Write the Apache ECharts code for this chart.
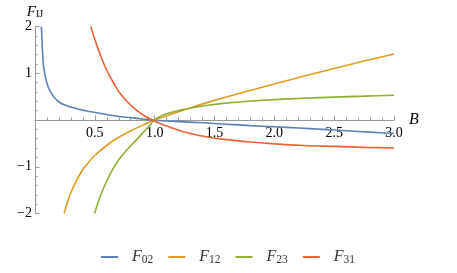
<!DOCTYPE html>
<html><head><meta charset="utf-8">
<script src="https://cdn.jsdelivr.net/npm/echarts@6/dist/echarts.min.js"></script>
<style>html,body{margin:0;padding:0;background:#fff}#c{width:457px;height:273px}</style>
</head><body><div id="c"></div>
<script>
// Data
const seriesNames = ['F02', 'F12', 'F23', 'F31'];
const seriesSubs = ['02', '12', '23', '31'];
const xTickLabels = ['0.5', '1.0', '1.5', '2.0', '2.5', '3.0'];
const yTickLabels = ['\u22122', '\u22121', '', '1', '2'];

const f02B = [0.053, 0.057, 0.061, 0.065, 0.069, 0.077, 0.086, 0.1, 0.114, 0.135, 0.155, 0.18, 0.21, 0.25, 0.294, 0.34, 0.38, 0.42, 0.46, 0.55, 0.69, 0.8, 0.9, 0.98, 1.1, 1.25, 1.4, 1.6, 1.8, 2.0, 2.2, 2.4, 2.6, 2.8, 3.0];
const f02V = [2.0, 1.78, 1.56, 1.38, 1.21, 1.06, 0.93, 0.79, 0.68, 0.58, 0.5, 0.43, 0.37, 0.32, 0.28, 0.25, 0.22, 0.2, 0.18, 0.14, 0.08, 0.05, 0.02, 0.0, -0.02, -0.04, -0.06, -0.09, -0.12, -0.145, -0.17, -0.2, -0.23, -0.26, -0.29];

const f12B = [0.243, 0.27, 0.3, 0.35, 0.4, 0.45, 0.5, 0.6, 0.7, 0.8, 0.9, 1.0, 1.25, 1.5, 1.75, 2.0, 2.25, 2.5, 2.75, 3.0];
const f12V = [-2.0, -1.77, -1.55, -1.28, -1.06, -0.9, -0.76, -0.54, -0.37, -0.23, -0.11, 0.0, 0.22, 0.42, 0.6, 0.77, 0.94, 1.1, 1.26, 1.41];

const f23B = [0.498, 0.52, 0.55, 0.6, 0.65, 0.7, 0.75, 0.8, 0.85, 0.9, 0.95, 0.98, 1.0, 1.05, 1.1, 1.2, 1.3, 1.43, 1.57, 1.75, 2.0, 2.25, 2.5, 2.75, 3.0];
const f23V = [-2.0, -1.82, -1.6, -1.3, -1.05, -0.85, -0.69, -0.55, -0.42, -0.28, -0.14, -0.05, 0.01, 0.08, 0.135, 0.2, 0.255, 0.31, 0.355, 0.395, 0.435, 0.465, 0.49, 0.51, 0.53];

const f31B = [0.467, 0.5, 0.53, 0.56, 0.586, 0.62, 0.642, 0.67, 0.697, 0.74, 0.78, 0.82, 0.864, 0.92, 0.98, 1.05, 1.1, 1.2, 1.3, 1.43, 1.6, 1.8, 2.0, 2.25, 2.5, 2.75, 3.0];
const f31V = [2.0, 1.72, 1.5, 1.3, 1.14, 0.96, 0.86, 0.73, 0.62, 0.48, 0.37, 0.27, 0.18, 0.08, 0.0, -0.08, -0.13, -0.22, -0.29, -0.36, -0.42, -0.47, -0.51, -0.545, -0.565, -0.585, -0.6];

const colors = ['#5E81B5', '#E19C24', '#8FB032', '#EB6235'];
const allB = [f02B, f12B, f23B, f31B];
const allV = [f02V, f12V, f23V, f31V];

const serif = '"Liberation Serif", "DejaVu Serif", serif';
const pair = (xs, ys) => xs.map((x, i) => [x, ys[i]]);

const gridTop = 26.5, gridBottom = 59.5;
const chart = echarts.init(document.getElementById('c'));
chart.setOption({
  animation: false,
  grid: { left: 35, right: 63, top: gridTop, bottom: gridBottom, containLabel: false },
  xAxis: {
    type: 'value', min: 0, max: 3, interval: 0.5, position: 'bottom',
    offset: -(273 - gridTop - gridBottom) / 2,
    name: 'B', nameLocation: 'end', nameGap: 15,
    nameTextStyle: { fontFamily: serif, fontStyle: 'italic', fontSize: 16, color: '#000', verticalAlign: 'middle' },
    axisLine: { onZero: false, lineStyle: { color: '#999', width: 1 } },
    axisTick: { show: true, inside: true, length: 4.5, lineStyle: { color: '#999' } },
    minorTick: { show: true, splitNumber: 5, length: 2.5, lineStyle: { color: '#999' } },
    splitLine: { show: false },
    axisLabel: {
      fontFamily: serif, fontSize: 14, color: '#000', margin: 6,
      formatter: v => { const i = Math.round(v / 0.5) - 1; return i >= 0 ? xTickLabels[i] : ''; }
    }
  },
  yAxis: {
    type: 'value', min: -2, max: 2, interval: 1,
    name: '{f|F}{s|IJ}', nameLocation: 'end', nameGap: 4,
    nameTextStyle: {
      align: 'center',
      rich: {
        f: { fontFamily: serif, fontStyle: 'italic', fontSize: 15, color: '#000' },
        s: { fontFamily: serif, fontSize: 10, color: '#000', verticalAlign: 'bottom', padding: [6, 0, 0, 0] }
      }
    },
    axisLine: { onZero: false, lineStyle: { color: '#999', width: 1 } },
    axisTick: { show: true, inside: true, length: 4.5, lineStyle: { color: '#999' } },
    minorTick: { show: true, splitNumber: 5, length: 2.5, lineStyle: { color: '#999' } },
    splitLine: { show: false },
    axisLabel: {
      fontFamily: serif, fontSize: 14, color: '#000', margin: 3,
      formatter: v => yTickLabels[Math.round(v) + 2]
    }
  },
  legend: {
    bottom: 7, left: 101, padding: 0, itemWidth: 17, itemHeight: 2, itemGap: 15, icon: 'rect',
    data: seriesNames,
    formatter: name => '{f|F}{s|' + seriesSubs[seriesNames.indexOf(name)] + '}',
    textStyle: {
      padding: [0, 0, 0, 9],
      rich: {
        f: { fontFamily: serif, fontStyle: 'italic', fontSize: 16, color: '#333' },
        s: { fontFamily: serif, fontSize: 11.5, color: '#333', verticalAlign: 'bottom', padding: [6, 0, 0, 0] }
      }
    }
  },
  series: seriesNames.map((n, i) => ({
    name: n, type: 'line', showSymbol: false, smooth: 0.3, clip: true,
    lineStyle: { color: colors[i], width: 1.6 }, itemStyle: { color: colors[i] },
    data: pair(allB[i], allV[i])
  }))
});
</script></body></html>
